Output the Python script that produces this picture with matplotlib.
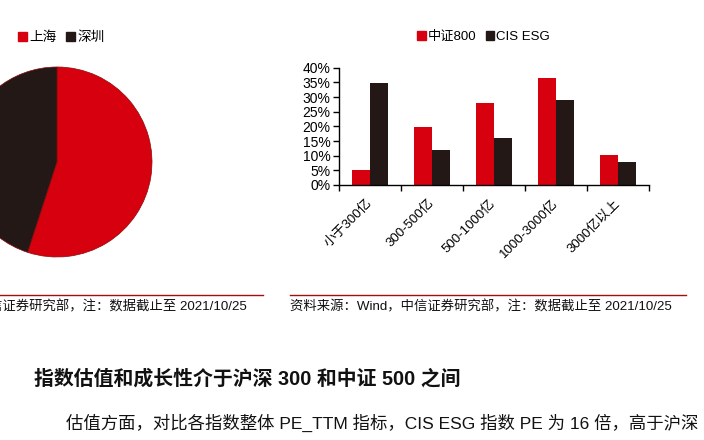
import numpy as np
import matplotlib
matplotlib.use('Agg')
import matplotlib.pyplot as plt
from matplotlib.patches import Patch
from matplotlib.lines import Line2D

plt.rcParams['font.family'] = ['Liberation Sans', 'Noto Sans CJK SC']
plt.rcParams['axes.unicode_minus'] = False

# datos
pie_labels = ['上海', '深圳']
pie_values = [55, 45]

categorias = ['小于300亿', '300-500亿', '500-1000亿', '1000-3000亿', '3000亿以上']
zz800 = [5.1, 19.7, 28.0, 36.6, 10.2]
cis_esg = [34.9, 11.9, 15.9, 29.0, 8.0]
series = ['中证800', 'CIS ESG']

fuente = '资料来源：Wind，中信证券研究部，注：数据截止至 2021/10/25'
titulo = '指数估值和成长性介于沪深 300 和中证 500 之间'
cuerpo = '估值方面，对比各指数整体 PE_TTM 指标，CIS ESG 指数 PE 为 16 倍，高于沪深'

rojo = '#D7000F'
negro = '#231815'

W, H = 704, 440
fig = plt.figure(figsize=(7.04, 4.40), dpi=100)

def fx(px):
    return px / W

def fy(py):
    return 1 - py / H

# ---------------- pie (recortado a la izquierda) ----------------
cx, cy, r = 57, 162, 95
ax_pie = fig.add_axes([fx(cx - r), fy(cy + r), 2 * r / W, 2 * r / H])
ax_pie.pie(pie_values, colors=[rojo, negro], startangle=90, counterclock=False,
           wedgeprops=dict(linewidth=0.5, edgecolor='#8a0a0a'))
ax_pie.set_xlim(-1, 1)
ax_pie.set_ylim(-1, 1)
ax_pie.set_aspect('auto')
ax_pie.axis('off')

fig.legend(handles=[Patch(color=rojo), Patch(color=negro)], labels=pie_labels,
           loc='center left', bbox_to_anchor=(fx(13), fy(37)), ncol=2, frameon=False,
           handlelength=0.65, handleheight=0.65, handletextpad=0.15, columnspacing=0.7,
           fontsize=9.8, borderaxespad=0)

# ---------------- barras ----------------
ax = fig.add_axes([fx(339), fy(185), fx(649) - fx(339), (185 - 67.7) / H])
x = np.arange(len(categorias))
w = 0.29
ax.bar(x - w / 2, zz800, w, color=rojo)
ax.bar(x + w / 2, cis_esg, w, color=negro)
ax.set_xlim(-0.5, len(categorias) - 0.5)
ax.set_ylim(0, 40)
ax.set_yticks(np.arange(0, 41, 5))
ax.set_yticklabels(['%d%%' % v for v in np.arange(0, 41, 5)], fontsize=10)
ax.set_xticks(x)
ax.set_xticklabels(categorias, rotation=45, ha='right', va='center',
                   rotation_mode='anchor', fontsize=9.5)
ax.tick_params(axis='x', length=0, pad=12)
ax.set_xticks(np.arange(-0.5, len(categorias)), minor=True)
ax.tick_params(axis='x', which='minor', length=4, direction='out', width=1)
ax.tick_params(axis='y', length=4, direction='out', width=1, pad=2)
for s in ['top', 'right']:
    ax.spines[s].set_visible(False)
for s in ['left', 'bottom']:
    ax.spines[s].set_linewidth(1)
    ax.spines[s].set_color('black')

fig.legend(handles=[Patch(color=rojo), Patch(color=negro)], labels=series,
           loc='center left', bbox_to_anchor=(fx(412), fy(37)), ncol=2, frameon=False,
           handlelength=0.65, handleheight=0.65, handletextpad=0.15, columnspacing=0.7,
           fontsize=9.5, borderaxespad=0)

# ---------------- texto del documento ----------------
fig.add_artist(Line2D([fx(0), fx(263)], [fy(295), fy(295)], color='#A01010', lw=1))
fig.add_artist(Line2D([fx(290), fx(686)], [fy(295), fy(295)], color='#A01010', lw=1))
fig.text(fx(247), fy(307), fuente, ha='right', va='center', fontsize=9.6, color='#111111')
fig.text(fx(290), fy(307), fuente, ha='left', va='center', fontsize=9.6, color='#111111')

fig.text(fx(34), fy(379), titulo, ha='left', va='center', fontsize=14.3, fontweight='bold',
         color='#111111')
fig.text(fx(66), fy(423), cuerpo, ha='left', va='center', fontsize=12.5, color='#111111')

plt.savefig('out.png', dpi=100)
